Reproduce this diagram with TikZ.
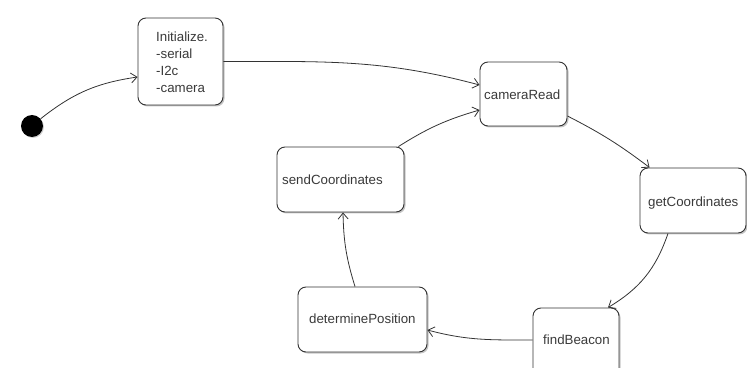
\documentclass[tikz,border=0pt]{standalone}
\usepackage{fontspec}
\setmainfont{Liberation Sans}
\usetikzlibrary{arrows.meta,shadows,calc}
\definecolor{ln}{HTML}{333333}
\definecolor{tx}{HTML}{3A3A3A}
\begin{document}
\begin{tikzpicture}[x=1pt,y=1pt,
  statebox/.style={draw=ln, line width=0.9pt, rounded corners=8pt, fill=white,
    drop shadow={shadow xshift=1.5pt,shadow yshift=-1.5pt,fill=black!45,opacity=0.5},
    inner sep=0pt},
  lbl/.style={anchor=west, inner sep=0pt, text=tx,
    font=\fontsize{13.3}{17}\selectfont, align=left},
  conn/.style={draw=ln, line width=0.8pt, -{Straight Barb[length=6pt,width=10pt]}}]
\useasboundingbox (0,0) rectangle (747,367);
\clip (0,0) rectangle (747,367);

% initial state
\node[circle, fill=black, minimum size=22pt, inner sep=0pt,
  drop shadow={shadow xshift=1pt,shadow yshift=-1pt,fill=black!45,opacity=0.4}] (dot) at (32,241) {};

% state boxes
\node[statebox, minimum width=85pt, minimum height=87pt] (init) at (180.5,305.5) {};
\node[statebox, minimum width=87pt, minimum height=64pt] (cam) at (523.5,273) {};
\node[statebox, minimum width=127pt, minimum height=65pt] (send) at (340.5,187.5) {};
\node[statebox, minimum width=106pt, minimum height=65pt] (getC) at (693,166.5) {};
\node[statebox, minimum width=86pt, minimum height=70pt] (findB) at (576,24) {};
\node[statebox, minimum width=129pt, minimum height=65pt] (det) at (362.5,47.5) {};

% labels
\node[lbl] (tinit) at (156,304.5) {Initialize.\\-serial\\-I2c\\-camera};
\node[lbl] (tcam) at (484,272) {cameraRead};
\node[lbl] (tsend) at (282,187) {sendCoordinates};
\node[lbl] (tgetC) at (648,164) {getCoordinates};
\node[lbl] (tfindB) at (543,27) {findBeacon};
\node[lbl] (tdet) at (309,48) {determinePosition};

% transitions
\draw[conn] (dot.40) to[bend left=15] ($(init.west)+(0,-15.5)$);
\draw[conn] (init.east) to[out=0,in=165] ($(cam.west)+(0,9)$);
\draw[conn] ($(send.north east)+(-6,0)$) to[bend left=8] ($(cam.west)+(0,-16)$);
\draw[conn] ($(cam.east)+(0,-22)$) to[bend left=5] ($(getC.north west)+(10,0)$);
\draw[conn] ($(getC.south)+(-25,0)$) to[bend left=20] ($(findB.north)+(32,0)$);
\draw[conn] ($(findB.west)+(0,3)$) to[out=180,in=-15] ($(det.east)+(0,-10.5)$);
\draw[conn] ($(det.north)+(-7.5,0)$) to[bend left=8] ($(send.south)+(2.5,0)$);
\end{tikzpicture}
\end{document}
